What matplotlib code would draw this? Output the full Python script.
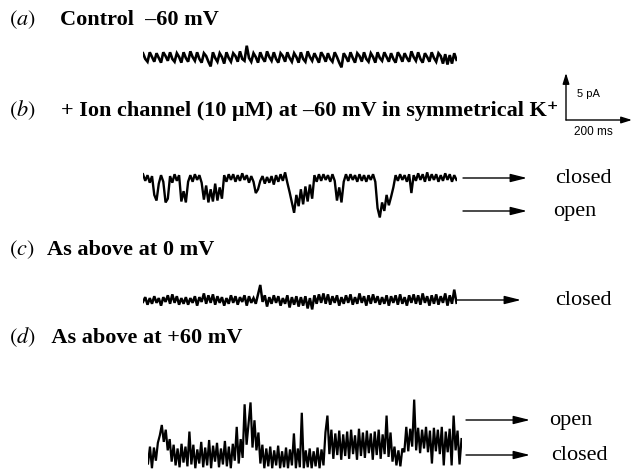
import numpy as np
import matplotlib
matplotlib.use("Agg")
import matplotlib.pyplot as plt

plt.rcParams['mathtext.fontset'] = 'stix'

# ---------------- data (currents in pA) ----------------
trace_a = [0.4,-0.2,-0.5,0.5,0.0,-0.5,0.4,-0.1,-0.6,0.5,
           0.1,-0.4,0.5,-0.2,-0.5,0.4,0.0,-0.6,0.5,-0.1,
           -0.5,0.6,0.0,-0.4,0.5,-0.2,-0.6,0.4,0.1,-0.5,
           -1.0,0.5,-0.1,-0.5,0.4,0.0,-0.7,0.5,-0.1,-0.5,
           0.4,0.1,-0.5,0.6,-0.2,-0.4,1.2,-0.1,-0.5,0.4,
           0.0,-0.6,0.5,-0.1,-0.5,0.6,0.0,-0.4,0.5,-0.2,
           -0.6,0.4,0.1,-0.5,0.5,-0.1,-0.5,0.4,0.0,-0.6,
           0.5,-0.2,-0.5,0.6,0.0,-0.4,0.4,-0.1,-0.6,0.5,
           0.1,-0.5,0.4,-0.2,-0.5,0.5,0.0,-0.6,-1.1,0.4,
           0.0,-0.5,0.5,-0.1,-0.6,0.4,0.1,-0.5,0.5,-0.2,
           -0.5,0.4,0.0,-0.6,0.5,-0.1,-0.4,0.5,0.0,-0.5,
           0.4,-0.2,-0.6,0.5,0.1,-0.5,0.4,-0.1,-0.5,0.6,
           0.0,-0.4,0.5,-0.2,-0.6,0.4,0.0,-0.5,0.5,-0.1,
           -0.5,0.4,0.1,-0.7,0.3,-0.8,0.2,-0.7,0.4,-0.3]

trace_b = [0.4,-0.3,0.3,-0.5,0.2,-1.8,-2.4,-0.6,0.3,-0.4,
           -2.6,-2.2,0.2,-0.5,0.4,-0.3,0.3,-2.5,-1.4,-2.6,
           -0.4,0.3,-0.4,0.4,-0.2,0.3,-0.5,-2.3,-0.8,-2.6,
           -1.2,-2.5,-0.6,-2.4,-1.0,-2.2,0.3,-0.4,0.4,-0.2,
           0.4,-0.4,0.3,-0.3,0.5,-0.2,0.3,-0.5,0.2,-0.4,
           -1.6,-1.2,-0.3,0.2,-0.6,0.1,-0.5,0.2,-0.7,0.3,
           -0.4,0.4,-0.3,0.6,-0.5,-1.5,-2.6,-3.7,-1.8,-3.0,
           -1.2,-2.8,-0.9,-2.5,-0.7,-2.2,0.3,-0.4,0.4,-0.3,
           0.4,-0.2,0.3,-0.4,0.4,-0.3,-2.4,-1.0,-2.6,-0.4,
           0.4,-0.3,0.4,-0.2,0.3,-0.4,0.4,-0.3,0.3,-0.4,
           0.3,-0.2,0.4,-0.4,-3.2,-4.2,-2.6,-3.5,-1.8,-2.9,
           -2.0,-1.0,0.3,-0.3,0.4,-0.2,0.3,-0.4,0.4,-1.6,
           0.3,-0.3,0.5,-0.2,0.4,-0.4,0.6,-0.3,0.4,-0.2,
           0.4,-0.4,0.3,-0.3,0.5,-0.2,0.4,-0.4,0.3,-0.2]

trace_c = [-0.2,0.3,-0.5,0.2,-0.4,0.4,-0.3,0.2,-0.6,0.3,
           -0.2,0.5,-0.4,0.6,-0.3,0.4,-0.5,0.2,-0.4,0.3,
           -0.5,0.2,-0.3,0.4,-0.6,0.3,-0.2,0.7,-0.4,0.5,
           -0.3,0.6,-0.5,0.4,-0.3,0.3,-0.6,0.2,-0.4,0.5,
           -0.3,0.4,-0.5,0.3,-0.2,0.5,-0.6,0.4,-0.3,0.2,
           -0.4,0.6,1.6,-0.2,0.5,-0.7,0.3,-0.4,0.5,-0.3,
           0.4,-0.6,0.2,-0.4,0.5,-0.8,0.3,-0.5,0.4,-0.7,
           0.3,-0.6,0.4,-0.9,0.2,-1.0,0.5,-0.4,0.6,-0.3,
           0.7,-0.4,0.6,-0.5,0.4,-0.3,0.5,-0.6,0.3,-0.4,
           0.5,-0.3,0.6,-0.5,0.3,-0.4,0.7,-0.3,0.4,-0.6,
           0.5,-0.4,0.6,-0.3,0.4,-0.5,0.3,-0.4,0.5,-0.6,
           0.4,-0.3,0.5,-0.5,0.6,-0.4,0.3,-0.6,0.5,-0.3,
           0.6,-0.4,0.5,-0.5,0.7,-0.3,0.4,-0.6,0.5,-0.4,
           0.6,-0.5,0.4,-0.3,0.7,-0.6,0.5,-0.4,1.1,-0.3]

trace_d = [-0.8,1.0,-1.3,0.9,-0.5,1.4,2.2,3.3,1.5,2.8,
           0.6,1.8,-0.6,1.2,-1.0,0.8,-1.2,1.3,-0.7,1.0,
           -1.1,2.6,-0.9,1.2,-1.3,0.7,-0.8,1.5,-1.2,0.9,
           -1.0,1.7,-1.3,1.1,-0.6,1.4,-1.2,0.8,-0.9,1.6,
           -1.1,1.0,-1.3,1.3,-0.5,3.1,-0.8,1.8,-0.2,5.5,
           1.2,3.5,5.7,0.9,3.8,0.6,2.5,-0.8,1.2,-1.3,
           0.8,-1.1,1.0,-1.3,0.6,-1.0,1.1,-1.3,0.5,-1.2,
           0.9,-1.3,0.7,-1.0,2.4,-1.3,0.8,-1.2,4.6,-1.3,
           0.6,-1.2,0.8,-1.3,0.5,-1.1,0.9,-1.3,0.7,-1.0,
           2.5,4.3,0.2,2.8,-0.3,2.4,0.1,2.7,-0.4,2.3,
           0.0,2.6,-0.3,2.8,0.2,2.2,-0.4,2.9,0.0,2.5,
           -0.2,2.7,0.3,2.4,-0.4,2.6,0.1,2.8,-0.3,2.3,
           0.2,4.3,-0.1,2.5,-0.6,1.0,-1.0,0.6,-1.1,0.8,
           0.4,3.1,0.5,2.9,1.0,6.0,0.6,3.0,0.3,2.8,
           0.8,3.1,0.4,2.7,-0.8,3.0,0.5,2.8,0.2,3.1,
           -1.0,2.6,0.4,2.9,-1.0,4.3,0.6,2.7,-0.9,1.8]

duration_ms = 950
scale_pA = 5
scale_ms = 200

panel_letters = ["a", "b", "c", "d"]
panel_titles = ["Control  \u201360 mV",
                "+ Ion channel (10 \u03bcM) at \u201360 mV in symmetrical K\u207a",
                "As above at 0 mV",
                " As above at +60 mV"]

# ---------------- layout (pixels) ----------------
W, H = 632, 470
PX_PER_MS = 66 / 200.0
PX_PER_PA = 47 / 5.0

fig = plt.figure(figsize=(W / 100, H / 100), dpi=100)
fig.patch.set_facecolor("white")
ax = fig.add_axes([0, 0, 1, 1])
ax.set_xlim(0, W)
ax.set_ylim(H, 0)
ax.axis("off")


def trace_axes(left_px, base_px, ylo=-7.0, yhi=7.0):
    width = duration_ms * PX_PER_MS
    bottom = H - base_px + ylo * PX_PER_PA
    tax = fig.add_axes([left_px / W, bottom / H, width / W,
                        (yhi - ylo) * PX_PER_PA / H])
    tax.set_xlim(0, duration_ms)
    tax.set_ylim(ylo, yhi)
    tax.axis("off")
    tax.patch.set_alpha(0)
    return tax


traces = [trace_a, trace_b, trace_c, trace_d]
trace_pos = [(143, 57), (143, 178), (143, 300), (148, 456)]
trace_lw = [1.9, 1.7, 1.8, 1.6]
for vals, (lx, by), lw in zip(traces, trace_pos, trace_lw):
    tax = trace_axes(lx, by)
    t = np.linspace(0, duration_ms, len(vals))
    tax.plot(t, vals, color="black", lw=lw, solid_joinstyle="miter")

# titles
title_y = [25, 116, 255, 343]
title_x = [60, 61, 47, 47]
for letter, title, ty, tx in zip(panel_letters, panel_titles, title_y, title_x):
    ax.text(9, ty, r"$(%s)$" % letter, fontsize=16, va="baseline", ha="left")
    ax.text(tx, ty, title, fontsize=16, fontweight="bold", va="baseline", ha="left",
            family=["Liberation Serif", "DejaVu Serif"])

# state arrows
state_labels = [("closed", 463, 178, 555), ("open", 463, 211, 553),
                ("closed", 457, 300, 555),
                ("open", 466, 420, 549), ("closed", 466, 455, 551)]
for lab, x0, y, tx in state_labels:
    ax.annotate("", xy=(x0 + 64, y), xytext=(x0, y),
                arrowprops=dict(arrowstyle="-|>,head_length=1.0,head_width=0.25",
                                mutation_scale=10, lw=1.0, color="black",
                                shrinkA=0, shrinkB=0))
    ax.text(tx, y + 5, lab, fontsize=16, va="baseline", ha="left",
            family="Liberation Serif")

# scale bar
sax = trace_axes(566, 120, ylo=-2, yhi=7)
sax.annotate("", xy=(0, scale_pA), xytext=(0, 0),
             arrowprops=dict(arrowstyle="-|>,head_length=0.8,head_width=0.25",
                             mutation_scale=8, lw=1.0, color="black",
                             shrinkA=0, shrinkB=0), annotation_clip=False)
sax.annotate("", xy=(scale_ms, 0), xytext=(0, 0),
             arrowprops=dict(arrowstyle="-|>,head_length=0.8,head_width=0.25",
                             mutation_scale=8, lw=1.0, color="black",
                             shrinkA=0, shrinkB=0), annotation_clip=False)
ax.text(577, 97, "%d pA" % scale_pA, fontsize=8, family="Liberation Sans",
        va="baseline", ha="left")
ax.text(574, 135, "%d ms" % scale_ms, fontsize=8.5, family="Liberation Sans",
        va="baseline", ha="left")

fig.savefig("out.png", dpi=100, facecolor="white")
